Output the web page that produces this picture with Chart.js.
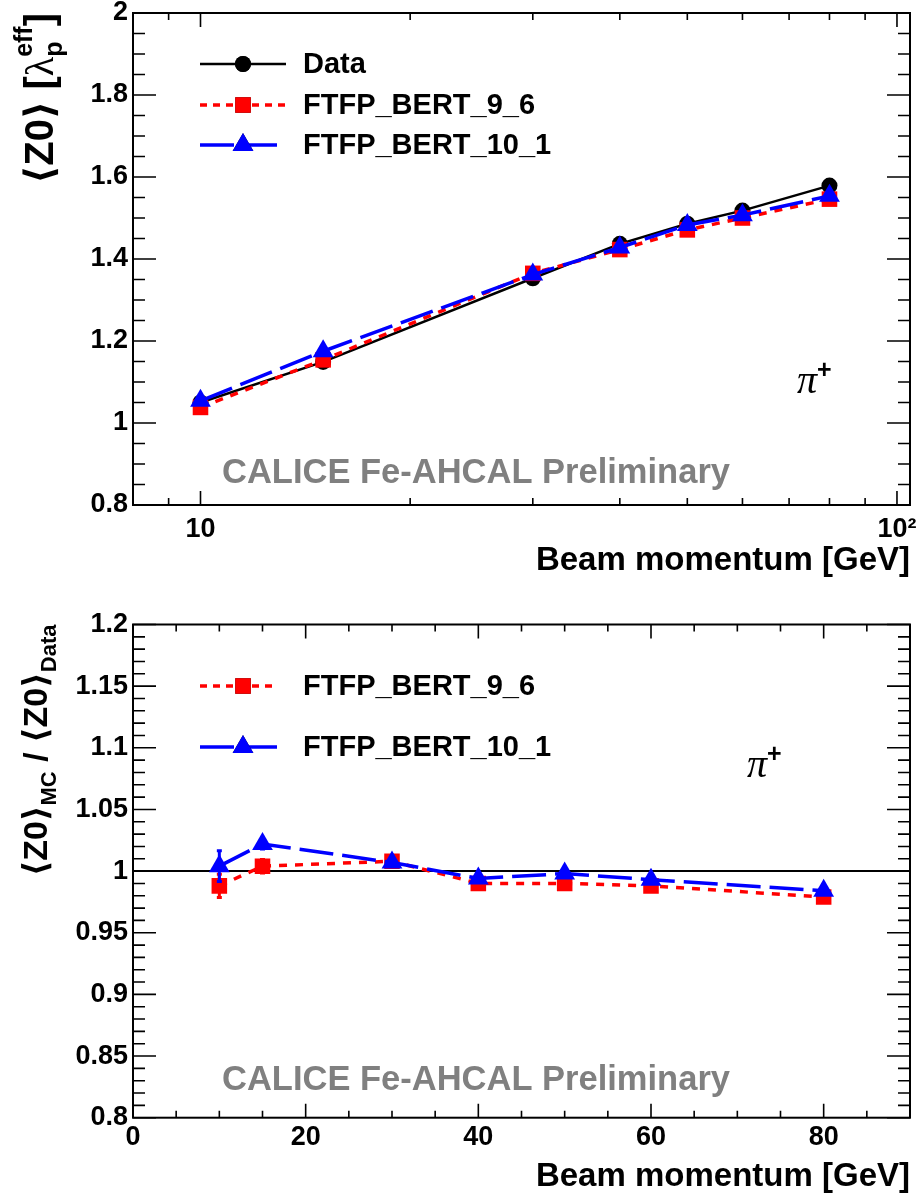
<!DOCTYPE html>
<html>
<head>
<meta charset="utf-8">
<script src="https://cdn.jsdelivr.net/npm/chart.js@4.4.1/dist/chart.umd.min.js"></script>
<style>
  html, body { margin: 0; padding: 0; background: #fff; }
  .panel { position: absolute; left: 0; width: 922px; height: 597px; }
  #top { top: 0; }
  #bottom { top: 597px; }
</style>
</head>
<body>
<div class="panel" id="top"><canvas id="z0Chart" width="922" height="597"></canvas></div>
<div class="panel" id="bottom"><canvas id="ratioChart" width="922" height="597"></canvas></div>
<script>
// beam momenta [GeV]
const momenta = [10, 15, 30, 40, 50, 60, 80];

// mean shower start <Z0> in lambda_p^eff
const dataZ0 = [1.050, 1.149, 1.353, 1.437, 1.486, 1.518, 1.579];
const bert96Z0 = [1.038, 1.154, 1.365, 1.423, 1.471, 1.500, 1.546];
const bert101Z0 = [1.054, 1.175, 1.362, 1.428, 1.483, 1.507, 1.554];

// MC / data
const ratio96 = [0.988, 1.004, 1.008, 0.990, 0.990, 0.988, 0.979];
const ratio96Err = [0.0095, 0.0055, 0.003, 0.002, 0.002, 0.002, 0.002];
const ratio101 = [1.004, 1.022, 1.007, 0.994, 0.998, 0.993, 0.984];
const ratio101Err = [0.0125, 0.004, 0.003, 0.002, 0.002, 0.002, 0.002];
const ratioRef = 1;

// tick labels
const z0YLabels = [0.8, 1, 1.2, 1.4, 1.6, 1.8, 2];
const z0XLabels = [10, 100];
const ratioYLabels = [0.8, 0.85, 0.9, 0.95, 1, 1.05, 1.1, 1.15, 1.2];
const ratioXLabels = [0, 20, 40, 60, 80];

const SANS = "'Liberation Sans', Arial, 'DejaVu Sans', sans-serif";
const SERIF = "'Liberation Serif', 'DejaVu Serif', serif";

const pts = (xs, ys) => xs.map((x, i) => ({ x: x, y: ys[i] }));

function linearTicks(min, max, step, majorEvery) {
    const out = [];
    const n = Math.round((max - min) / step);
    for (let i = 0; i <= n; i++) {
        const v = +(min + i * step).toFixed(4);
        const r = v / majorEvery;
        out.push({ v: v, major: Math.abs(r - Math.round(r)) < 1e-6 });
    }
    return out;
}

function logTicks(min, max) {
    const out = [];
    for (let d = 1; d <= 1000; d *= 10) {
        for (let k = 1; k < 10; k++) {
            const v = k * d;
            if (v >= min && v <= max) out.push({ v: v, major: k === 1 });
        }
    }
    return out;
}

// draws text made of groups; items inside a group share the same start (sub + superscript)
function drawRich(ctx, groups, x, y, angle, alignEnd) {
    ctx.save();
    ctx.translate(x, y);
    ctx.rotate(angle);
    ctx.textBaseline = 'alphabetic';
    ctx.textAlign = 'left';
    const widths = groups.map(g => Math.max(...g.map(it => { ctx.font = it.font; return ctx.measureText(it.t).width; })));
    const total = widths.reduce((a, b) => a + b, 0);
    let cx = alignEnd ? -total : 0;
    groups.forEach((g, i) => {
        g.forEach(it => {
            ctx.font = it.font;
            ctx.fillStyle = it.color || '#000';
            ctx.fillText(it.t, cx, it.dy || 0);
        });
        cx += widths[i];
    });
    ctx.restore();
}

// ROOT-like frame with ticks pointing inward on all four sides
const framePlugin = {
    id: 'frame',
    beforeDatasetsDraw(chart, args, opts) {
        if (opts.refLine === undefined) return;
        const { ctx, chartArea: a, scales: { y } } = chart;
        const py = y.getPixelForValue(opts.refLine);
        ctx.save();
        ctx.strokeStyle = '#000';
        ctx.lineWidth = 2;
        ctx.beginPath();
        ctx.moveTo(a.left, py);
        ctx.lineTo(a.right, py);
        ctx.stroke();
        ctx.restore();
    },
    afterDatasetsDraw(chart, args, opts) {
        const { ctx, chartArea: a, scales: { x, y } } = chart;
        ctx.save();
        ctx.strokeStyle = '#000';
        ctx.lineWidth = 1.6;
        ctx.beginPath();
        opts.yTicks.forEach(t => {
            const py = y.getPixelForValue(t.v);
            const len = t.major ? opts.yLen[0] : opts.yLen[1];
            ctx.moveTo(a.left, py); ctx.lineTo(a.left + len, py);
            ctx.moveTo(a.right, py); ctx.lineTo(a.right - len, py);
        });
        opts.xTicks.forEach(t => {
            const px = x.getPixelForValue(t.v);
            const len = t.major ? opts.xLen[0] : opts.xLen[1];
            ctx.moveTo(px, a.bottom); ctx.lineTo(px, a.bottom - len);
            ctx.moveTo(px, a.top); ctx.lineTo(px, a.top + len);
        });
        ctx.stroke();
        ctx.lineWidth = 2;
        ctx.strokeRect(a.left, a.top, a.right - a.left, a.bottom - a.top);
        ctx.restore();
    }
};

// error bars drawn under each dataset's markers
const errorBarPlugin = {
    id: 'errorBars',
    beforeDatasetDraw(chart, args) {
        const ds = chart.data.datasets[args.index];
        if (!ds.errors) return;
        const { ctx, scales: { x, y } } = chart;
        ctx.save();
        ctx.strokeStyle = ds.borderColor;
        ctx.lineWidth = 3;
        ctx.beginPath();
        ds.data.forEach((p, i) => {
            const e = ds.errors[i];
            const px = x.getPixelForValue(p.x);
            const y1 = y.getPixelForValue(p.y - e);
            const y2 = y.getPixelForValue(p.y + e);
            ctx.moveTo(px, y1); ctx.lineTo(px, y2);
            ctx.moveTo(px - 2.5, y1); ctx.lineTo(px + 2.5, y1);
            ctx.moveTo(px - 2.5, y2); ctx.lineTo(px + 2.5, y2);
        });
        ctx.stroke();
        ctx.restore();
    }
};

// legend: line sample with marker in the middle, then the label
const legendPlugin = {
    id: 'rootLegend',
    afterDraw(chart, args, opts) {
        const { ctx } = chart;
        opts.rows.forEach(row => {
            const ds = chart.data.datasets[row.index];
            ctx.save();
            ctx.strokeStyle = ds.borderColor;
            ctx.lineWidth = ds.borderWidth;
            ctx.setLineDash(ds.legendDash || ds.borderDash || []);
            ctx.beginPath();
            ctx.moveTo(opts.x0, row.y);
            ctx.lineTo(opts.x1, row.y);
            ctx.stroke();
            ctx.setLineDash([]);
            Chart.helpers.drawPoint(ctx, {
                pointStyle: ds.pointStyle,
                radius: ds.pointRadius,
                borderWidth: 0,
                rotation: 0
            }, opts.xm, row.y);
            ctx.fillStyle = ds.pointBackgroundColor;
            ctx.fill();
            ctx.fillStyle = '#000';
            ctx.font = 'bold 29px ' + SANS;
            ctx.textBaseline = 'middle';
            ctx.fillText(ds.label, opts.xt, row.y + 1);
            ctx.restore();
        });
    }
};

// free text: y title, preliminary label, particle tag
const textPlugin = {
    id: 'texts',
    afterDraw(chart, args, opts) {
        const { ctx, chartArea: a } = chart;
        drawRich(ctx, opts.yTitle, opts.yTitleX, a.top, -Math.PI / 2, true);
        ctx.save();
        ctx.fillStyle = '#808080';
        ctx.font = 'bold 34.5px ' + SANS;
        ctx.textBaseline = 'alphabetic';
        ctx.fillText('CALICE Fe-AHCAL Preliminary', opts.prelim[0], opts.prelim[1]);
        ctx.restore();
        drawRich(ctx, [
            [{ t: 'π', font: 'italic 40px ' + SERIF }],
            [{ t: '+', font: 'bold 25px ' + SANS, dy: -15 }]
        ], opts.pion[0], opts.pion[1], 0, false);
    }
};

const dataStyle = {
    borderColor: '#000000', borderWidth: 2.5,
    pointStyle: 'circle', pointRadius: 8, pointHoverRadius: 8,
    pointBackgroundColor: '#000000', pointBorderWidth: 0
};
const bert96Style = {
    borderColor: '#ff0000', borderWidth: 3.5, borderDash: [8, 8], legendDash: [7, 6],
    pointStyle: 'rect', pointRadius: 11, pointHoverRadius: 11,
    pointBackgroundColor: '#ff0000', pointBorderWidth: 0
};
const bert101Style = {
    borderColor: '#0000ff', borderWidth: 3.5, borderDash: [34, 9], legendDash: [34, 9],
    pointStyle: 'triangle', pointRadius: 12, pointHoverRadius: 12,
    pointBackgroundColor: '#0000ff', pointBorderWidth: 0
};

function tickFont() {
    return { family: SANS, size: 27, weight: 'bold' };
}

const fmt = v => String(+Number(v).toFixed(2));

// ---------------- top panel: <Z0> vs momentum ----------------
new Chart(document.getElementById('z0Chart'), {
    type: 'line',
    data: {
        datasets: [
            Object.assign({ label: 'Data', data: pts(momenta, dataZ0), order: 2 }, dataStyle),
            Object.assign({ label: 'FTFP_BERT_9_6', data: pts(momenta, bert96Z0), order: 1 }, bert96Style),
            Object.assign({ label: 'FTFP_BERT_10_1', data: pts(momenta, bert101Z0), order: 0 }, bert101Style)
        ]
    },
    options: {
        responsive: false,
        animation: false,
        events: [],
        layout: { padding: { top: 13, right: 10, left: 0, bottom: 0 } },
        elements: { line: { tension: 0, fill: false } },
        scales: {
            x: {
                type: 'logarithmic',
                min: 8,
                max: 104.4,
                afterBuildTicks: s => { s.ticks = z0XLabels.map(v => ({ value: v })); },
                ticks: {
                    autoSkip: false, maxRotation: 0, padding: 8, color: '#000', font: tickFont(),
                    callback: v => (v === 100 ? '10²' : fmt(v))
                },
                grid: { display: false, drawTicks: false },
                border: { display: false },
                title: {
                    display: true, text: 'Beam momentum [GeV]', align: 'end', color: '#000',
                    font: { family: SANS, size: 33, weight: 'bold', lineHeight: 1 },
                    padding: { top: 0, bottom: 20 }
                },
                afterFit: s => { s.height = 92; s.paddingLeft = 0; s.paddingRight = 0; }
            },
            y: {
                min: 0.8,
                max: 2,
                afterBuildTicks: s => { s.ticks = z0YLabels.map(v => ({ value: v })); },
                ticks: { padding: 5, color: '#000', font: tickFont(), callback: v => fmt(v) },
                grid: { display: false, drawTicks: false },
                border: { display: false },
                afterFit: s => { s.width = 133; s.paddingTop = 0; s.paddingBottom = 0; }
            }
        },
        plugins: {
            legend: { display: false },
            tooltip: { enabled: false },
            frame: {
                xTicks: logTicks(8, 104.4),
                yTicks: linearTicks(0.8, 2, 0.05, 0.2),
                xLen: [14, 7],
                yLen: [23, 12]
            },
            rootLegend: {
                x0: 200, x1: 286, xm: 243, xt: 303,
                rows: [{ index: 0, y: 64 }, { index: 1, y: 105 }, { index: 2, y: 145 }]
            },
            texts: {
                yTitleX: 53,
                yTitle: [
                    [{ t: '⟨Z0⟩ [', font: 'bold 40px ' + SANS }],
                    [{ t: 'λ', font: '40px ' + SERIF }],
                    [{ t: 'p', font: 'bold 25px ' + SANS, dy: 9 }, { t: 'eff', font: 'bold 25px ' + SANS, dy: -21 }],
                    [{ t: ']', font: 'bold 40px ' + SANS }]
                ],
                prelim: [222, 483],
                pion: [797, 393]
            }
        }
    },
    plugins: [framePlugin, errorBarPlugin, legendPlugin, textPlugin]
});

// ---------------- bottom panel: MC / data ----------------
new Chart(document.getElementById('ratioChart'), {
    type: 'line',
    data: {
        datasets: [
            Object.assign({ label: 'FTFP_BERT_9_6', data: pts(momenta, ratio96), errors: ratio96Err, order: 1 }, bert96Style),
            Object.assign({ label: 'FTFP_BERT_10_1', data: pts(momenta, ratio101), errors: ratio101Err, order: 0 }, bert101Style)
        ]
    },
    options: {
        responsive: false,
        animation: false,
        events: [],
        layout: { padding: { top: 27.5, right: 9.5, left: 0, bottom: 0 } },
        elements: { line: { tension: 0, fill: false } },
        scales: {
            x: {
                type: 'linear',
                min: 0,
                max: 90,
                afterBuildTicks: s => { s.ticks = ratioXLabels.map(v => ({ value: v })); },
                ticks: { autoSkip: false, maxRotation: 0, padding: 4, color: '#000', font: tickFont(), callback: v => fmt(v) },
                grid: { display: false, drawTicks: false },
                border: { display: false },
                title: {
                    display: true, text: 'Beam momentum [GeV]', align: 'end', color: '#000',
                    font: { family: SANS, size: 33, weight: 'bold', lineHeight: 1 },
                    padding: { top: 0, bottom: 1 }
                },
                afterFit: s => { s.height = 76.3; s.paddingLeft = 0; s.paddingRight = 0; }
            },
            y: {
                min: 0.8,
                max: 1.2,
                afterBuildTicks: s => { s.ticks = ratioYLabels.map(v => ({ value: v })); },
                ticks: { padding: 5, color: '#000', font: tickFont(), callback: v => fmt(v) },
                grid: { display: false, drawTicks: false },
                border: { display: false },
                afterFit: s => { s.width = 133; s.paddingTop = 0; s.paddingBottom = 0; }
            }
        },
        plugins: {
            legend: { display: false },
            tooltip: { enabled: false },
            frame: {
                xTicks: linearTicks(0, 90, 5, 20),
                yTicks: linearTicks(0.8, 1.2, 0.01, 0.05),
                xLen: [14, 7],
                yLen: [23, 12],
                refLine: ratioRef
            },
            rootLegend: {
                x0: 200, x1: 278, xm: 243, xt: 303,
                rows: [{ index: 0, y: 89 }, { index: 1, y: 150 }]
            },
            texts: {
                yTitleX: 47,
                yTitle: [
                    [{ t: '⟨Z0⟩', font: 'bold 34px ' + SANS }],
                    [{ t: 'MC', font: 'bold 22px ' + SANS, dy: 9 }],
                    [{ t: ' / ', font: 'bold 34px ' + SANS }],
                    [{ t: '⟨Z0⟩', font: 'bold 34px ' + SANS }],
                    [{ t: 'Data', font: 'bold 22px ' + SANS, dy: 9 }]
                ],
                prelim: [222, 493],
                pion: [747, 180]
            }
        }
    },
    plugins: [framePlugin, errorBarPlugin, legendPlugin, textPlugin]
});
</script>
</body>
</html>
